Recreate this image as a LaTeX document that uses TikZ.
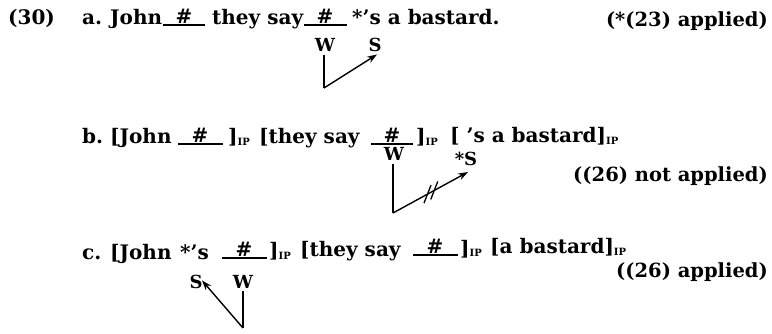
\documentclass[tikz,border=0pt]{standalone}
\usepackage{fontspec}
\setmainfont{DejaVu Serif}
\usetikzlibrary{arrows.meta}
\tikzset{
  txt/.style={anchor=base west,inner sep=0pt,font=\bfseries\fontsize{20}{24}\selectfont},
  note/.style={anchor=base east,inner sep=0pt,font=\bfseries\fontsize{19.5}{23}\selectfont},
  lab/.style={anchor=base,inner sep=0pt,font=\bfseries\fontsize{18}{21}\selectfont},
  uline/.style={line width=1.3pt},
  conn/.style={line width=1.4pt},
  arr/.style={conn,-{Stealth[length=10pt,width=7pt]}},
  slash/.style={line width=1.3pt}
}
\newcommand{\ipsub}{\raisebox{-1.5pt}{\fontsize{10}{10}\selectfont IP}}
\begin{document}
\begin{tikzpicture}[x=1pt,y=-1pt]
\useasboundingbox (0,0) rectangle (772,334);
% ---------- (30a)
\node[txt] (n30) at (8,25) {(30)};
\node[txt] (la) at (82,25) {a.};
\node[txt] (ajohn) at (110,25) {John};
\draw[uline] (163,25) coordinate (au1l) -- (205,25) coordinate (au1r);
\node[txt,anchor=base] (ah1) at (184,24) {\#};
\node[txt] (asay) at (212,25) {they say};
\draw[uline] (304,25) coordinate (au2l) -- (347,25) coordinate (au2r);
\node[txt,anchor=base] (ah2) at (325,24) {\#};
\node[txt] (arest) at (352,25) {*'s a bastard.};
\node[note] (anote) at (768,27) {(*(23) applied)};
\node[lab] (aW) at (325,52) {W};
\node[lab] (aS) at (375,52) {S};
\coordinate (ac) at (324,88);
\draw[conn] (aW.south -| ac) ++(0,3) -- (ac);
\draw[arr] (ac) -- ([xshift=2pt,yshift=-2pt]aS.south);
% ---------- (30b)
\node[txt] (lb) at (82,144) {b.};
\node[txt] (bjohn) at (110,144) {[John};
\draw[uline] (178,144) -- (223,144);
\node[txt,anchor=base] (bh1) at (200,143) {\#};
\node[txt] (bc1) at (228,144) {]\ipsub};
\node[txt] (bsay) at (259,144) {[they say};
\draw[uline] (371,144) -- (413,144);
\node[txt,anchor=base] (bh2) at (392,143) {\#};
\node[txt] (bc2) at (416,144) {]\ipsub};
\node[txt] (brest) at (450,143) {[ 's a bastard]\ipsub};
\node[note] (bnote) at (768,182) {((26) not applied)};
\node[lab] (bW) at (394,161) {W};
\node[lab] (bS) at (466,166) {*S};
\coordinate (bc) at (393,213);
\coordinate (btip) at (468,172);
\draw[conn] (bW.south -| bc) ++(0,3) -- (bc);
\draw[arr] (bc) -- (btip)
  coordinate[pos=0.46] (bm1) coordinate[pos=0.55] (bm2);
\draw[slash] ([shift={(-3.5,9)}]bm1) -- ([shift={(3.5,-9)}]bm1);
\draw[slash] ([shift={(-3.5,9)}]bm2) -- ([shift={(3.5,-9)}]bm2);
% ---------- (30c)
\node[txt] (lc) at (82,260) {c.};
\node[txt] (cjohn) at (110,260) {[John};
\node[txt] (cs) at (180,259) {*'s};
\draw[uline] (222,258) -- (267,258);
\node[txt,anchor=base] (ch1) at (244,257) {\#};
\node[txt] (cc1) at (269,258) {]\ipsub};
\node[txt] (csay) at (300,257) {[they say};
\draw[uline] (413,255) -- (458,255);
\node[txt,anchor=base] (ch2) at (435,254) {\#};
\node[txt] (cc2) at (460,255) {]\ipsub};
\node[txt] (crest) at (490,254) {[a bastard]\ipsub};
\node[note] (cnote) at (768,277) {((26) applied)};
\node[lab] (cS) at (196,288) {S};
\node[lab] (cW) at (243,288) {W};
\coordinate (cc) at (243,328);
\draw[conn] (cW.south) ++(0,3) -- (cc);
\draw[arr] (cc) -- ([xshift=6pt,yshift=8pt]cS.south);
\end{tikzpicture}
\end{document}
